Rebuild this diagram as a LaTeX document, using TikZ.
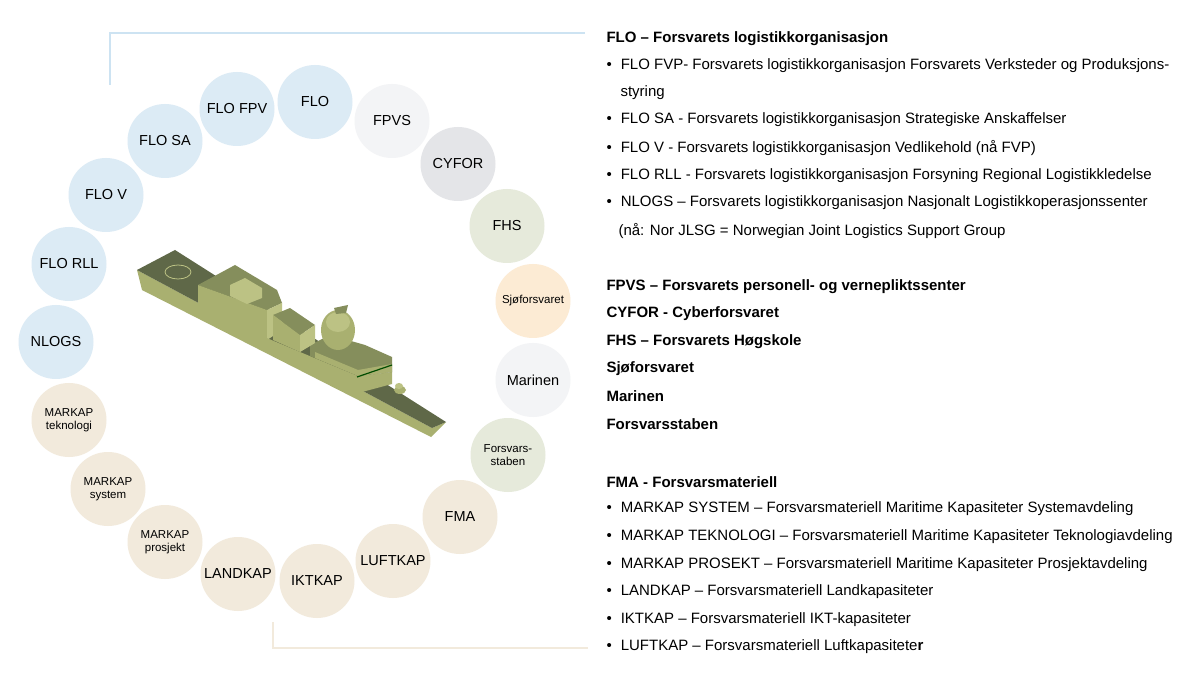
\documentclass[tikz,border=0pt]{standalone}
\usepackage{fontspec}
\setmainfont{Liberation Sans}
\usetikzlibrary{shapes.geometric}
\definecolor{cblue}{HTML}{DCEBF5}
\definecolor{cgrey}{HTML}{F3F4F6}
\definecolor{cgrey2}{HTML}{E4E5E8}
\definecolor{cgreen}{HTML}{E6EADB}
\definecolor{corange}{HTML}{FCEBD4}
\definecolor{cbeige}{HTML}{F2EADC}
\definecolor{lblue}{HTML}{CDE3F2}
\definecolor{shipdark}{HTML}{5F6848}
\definecolor{shipmid}{HTML}{A9B070}
\definecolor{shiplight}{HTML}{BCC284}
\definecolor{shipdk2}{HTML}{858E5C}
\begin{document}
\begin{tikzpicture}[x=1pt,y=-1pt,
  bub/.style={ellipse,minimum width=75pt,minimum height=74pt,inner xsep=-14pt,inner ysep=0pt,align=center,font=\fontsize{14.5}{15}\selectfont},
  sbub/.style={bub,font=\fontsize{11.5}{13.5}\selectfont},
  hd/.style={anchor=west,font=\fontsize{15}{16}\selectfont\bfseries},
  it/.style={anchor=west,font=\fontsize{15}{16}\selectfont},
  bl/.style={anchor=west,font=\fontsize{15}{16}\selectfont}]
\useasboundingbox (0,0) rectangle (1200,676);
\fill[white] (0,0) rectangle (1200,676);
% frame lines
\coordinate (t1) at (110,85); \coordinate (t2) at (110,33); \coordinate (t3) at (585,33);
\draw[lblue,line width=1.5pt] (t1) -- (t2) -- (t3);
\coordinate (b1) at (273,622); \coordinate (b2) at (273,648); \coordinate (b3) at (588,648);
\draw[cbeige,line width=1.5pt] (b1) -- (b2) -- (b3);
% bubbles
\node[bub,fill=cblue] (flo) at (315,102) {FLO};
\node[bub,fill=cblue] (flofpv) at (237,109) {FLO FPV};
\node[bub,fill=cblue] (flosa) at (165,141) {FLO SA};
\node[bub,fill=cblue] (flov) at (106,195) {FLO V};
\node[bub,fill=cblue] (florll) at (69,264) {FLO RLL};
\node[bub,fill=cblue] (nlogs) at (56,342) {NLOGS};
\node[sbub,fill=cbeige] (mtek) at (69,420) {MARKAP\\teknologi};
\node[sbub,fill=cbeige] (msys) at (108,489) {MARKAP\\system};
\node[sbub,fill=cbeige] (mpro) at (165,542) {MARKAP\\prosjekt};
\node[bub,fill=cbeige] (land) at (238,574) {LANDKAP};
\node[bub,fill=cbeige] (ikt) at (317,581) {IKTKAP};
\node[bub,fill=cbeige] (luft) at (393,561) {LUFTKAP};
\node[bub,fill=cbeige] (fma) at (460,517) {FMA};
\node[sbub,fill=cgreen] (fst) at (508,455) {Forsvars-\\staben};
\node[bub,fill=cgrey] (mar) at (533,380) {Marinen};
\node[sbub,fill=corange] (sjo) at (533,301) {Sjøforsvaret};
\node[bub,fill=cgreen] (fhs) at (507,226) {FHS};
\node[bub,fill=cgrey2] (cyf) at (458,164) {CYFOR};
\node[bub,fill=cgrey] (fpvs) at (392,121) {FPVS};
% ship
\fill[shipmid] (137,270) -- (432,428) -- (446,422) -- (431,437) -- (142,290) -- cycle;
\fill[shipdark] (137,270) -- (175,250) -- (446,422) -- (432,428) -- cycle;
% hangar
\fill[shipdk2] (198,285) -- (235,265) -- (277,290) -- (282,303) -- (267,310) -- cycle;
\fill[shipmid] (198,285) -- (267,310) -- (267,340) -- (198,308) -- cycle;
\fill[shiplight] (267,310) -- (282,303) -- (282,330) -- (267,340) -- cycle;
\fill[shiplight] (230,285) -- (245,278) -- (262,288) -- (262,298) -- (247,304) -- (230,296) -- cycle;
\draw[shiplight,line width=0.8pt] (178,272) ellipse (13pt and 7pt);
% mid deck / forward superstructure side
\fill[shipmid] (262,336) -- (300,352) -- (358,376) -- (392,372) -- (392,384) -- (362,392) -- (262,348) -- cycle;
\fill[shipdk2] (310,345) -- (330,335) -- (365,345) -- (392,357) -- (392,372) -- (358,376) -- (310,356) -- cycle;
\fill[shipmid] (315,352) -- (358,370) -- (392,364) -- (392,372) -- (358,376) -- (315,358) -- cycle;
% block 2
\fill[shipdk2] (273,315) -- (290,308) -- (315,325) -- (300,335) -- cycle;
\fill[shipmid] (273,315) -- (300,335) -- (300,352) -- (273,340) -- cycle;
\fill[shiplight] (300,335) -- (315,325) -- (315,343) -- (300,352) -- cycle;
% dome
\fill[shipmid] (338,330) ellipse (17pt and 20pt);
\fill[shiplight] (338,322) ellipse (12pt and 10pt);
\fill[shipdk2] (334,308) -- (348,305) -- (346,313) -- (336,314) -- cycle;
\draw[black!70!green,line width=1.2pt] (357,377) -- (392,365);
% bow turret
\fill[shipmid] (400,390) ellipse (6pt and 4pt);
\fill[shiplight] (399,386) ellipse (4pt and 3pt);
% right text
\node[hd] (h1) at (603,39) {FLO – Forsvarets logistikkorganisasjon};
\node[bl] (l1) at (603,66) {•\hspace{9pt}FLO FVP- Forsvarets logistikkorganisasjon Forsvarets Verksteder og Produksjons-};
\node[it] (l1b) at (617,93) {styring};
\node[bl] (l2) at (603,120) {•\hspace{9pt}FLO SA - Forsvarets logistikkorganisasjon Strategiske Anskaffelser};
\node[bl] (l3) at (603,148) {•\hspace{9pt}FLO V - Forsvarets logistikkorganisasjon Vedlikehold (nå FVP)};
\node[bl] (l4) at (603,176) {•\hspace{9pt}FLO RLL - Forsvarets logistikkorganisasjon Forsyning Regional Logistikkledelse};
\node[bl] (l5) at (603,203) {•\hspace{9pt}NLOGS – Forsvarets logistikkorganisasjon Nasjonalt Logistikkoperasjonssenter};
\node[it] (l5b) at (615,231) {(nå: Nor JLSG = Norwegian Joint Logistics Support Group};
\node[hd] (h2) at (603,287) {FPVS – Forsvarets personell- og vernepliktssenter};
\node[hd] (h3) at (603,314) {CYFOR - Cyberforsvaret};
\node[hd] (h4) at (603,342) {FHS – Forsvarets Høgskole};
\node[hd] (h5) at (603,369) {Sjøforsvaret};
\node[hd] (h6) at (603,396) {Marinen};
\node[hd] (h7) at (603,424) {Forsvarsstaben};
\node[hd] (h8) at (603,482) {FMA - Forsvarsmateriell};
\node[bl] (m1) at (603,509) {•\hspace{9pt}MARKAP SYSTEM – Forsvarsmateriell Maritime Kapasiteter Systemavdeling};
\node[bl] (m2) at (603,537) {•\hspace{9pt}MARKAP TEKNOLOGI – Forsvarsmateriell Maritime Kapasiteter Teknologiavdeling};
\node[bl] (m3) at (603,565) {•\hspace{9pt}MARKAP PROSEKT – Forsvarsmateriell Maritime Kapasiteter Prosjektavdeling};
\node[bl] (m4) at (603,592) {•\hspace{9pt}LANDKAP – Forsvarsmateriell Landkapasiteter};
\node[bl] (m5) at (603,620) {•\hspace{9pt}IKTKAP – Forsvarsmateriell IKT-kapasiteter};
\node[bl] (m6) at (603,647) {•\hspace{9pt}LUFTKAP – Forsvarsmateriell Luftkapasitete\textbf{r}};
\end{tikzpicture}
\end{document}
